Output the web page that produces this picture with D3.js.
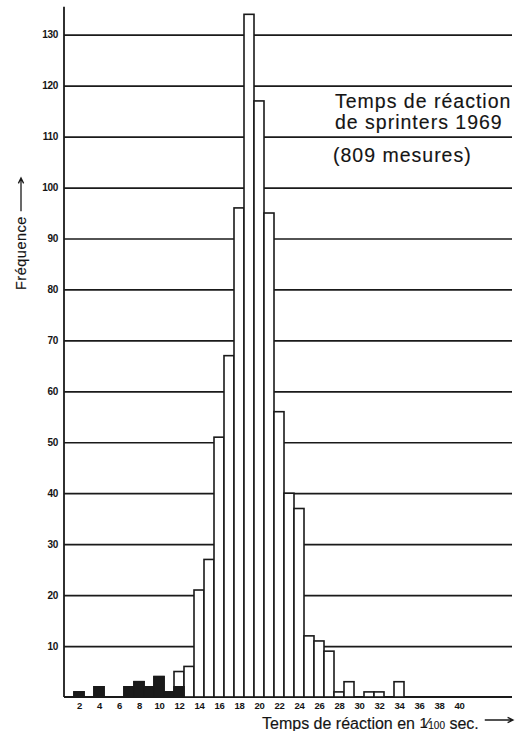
<!DOCTYPE html>
<html>
<head>
<meta charset="utf-8">
<script src="https://cdn.jsdelivr.net/npm/d3@7"></script>
<style>
  html, body { margin: 0; padding: 0; background: #fff; }
  svg { display: block; }
  text { font-family: "Liberation Sans", Arial, Helvetica, sans-serif; fill: #141414; }
</style>
</head>
<body>
<svg id="chart" width="530" height="731"></svg>
<script>
// ---- data ----
const reactionTimes = [2, 4, 7, 8, 9, 10, 11, 12, 13, 14, 15, 16, 17, 18, 19, 20, 21, 22, 23, 24, 25, 26, 27, 28, 29, 31, 32, 34];
const darkCounts    = [1, 2, 2, 3, 2, 4, 1, 2, 0, 0, 0, 0, 0, 0, 0, 0, 0, 0, 0, 0, 0, 0, 0, 0, 0, 0, 0, 0];
const lightCounts   = [0, 0, 0, 0, 0, 0, 0, 3, 6, 21, 27, 51, 67, 96, 134, 117, 95, 56, 40, 37, 12, 11, 9, 1, 3, 1, 1, 3];
const yTickValues   = [10, 20, 30, 40, 50, 60, 70, 80, 90, 100, 110, 120, 130];
const xTickValues   = [2, 4, 6, 8, 10, 12, 14, 16, 18, 20, 22, 24, 26, 28, 30, 32, 34, 36, 38, 40];
const titleLines    = ["Temps de réaction", "de sprinters 1969"];
const subtitle      = "(809 mesures)";
const yTitle        = "Fréquence";
const xTitleParts   = ["Temps de réaction en ", "1", "⁄", "100", " sec."];

// ---- layout ----
const svg = d3.select("#chart");
const ink = "#1a1a1a";
const x = d3.scaleLinear().domain([0.5, 45.3]).range([64, 512]);
const y = d3.scaleLinear().domain([0, 130]).range([697, 34.7]);

const bins = reactionTimes.map((t, i) => ({ t, dark: darkCounts[i], light: lightCounts[i] }));

// gridlines + y tick labels
const yAxis = d3.axisLeft(y)
  .tickValues(yTickValues)
  .tickSize(-(x.range()[1] - x.range()[0]))
  .tickPadding(6)
  .tickFormat(d3.format("d"));
const gy = svg.append("g").attr("transform", `translate(${x.range()[0]},0)`).call(yAxis);
gy.select(".domain").remove();
gy.selectAll(".tick line").attr("stroke", ink).attr("stroke-width", 1.7);
gy.selectAll(".tick text")
  .attr("font-size", 10).attr("font-weight", "bold")
  .attr("font-family", '"Liberation Sans", Arial, sans-serif')
  .attr("letter-spacing", "-0.3px")
  .attr("fill", "#141414");

// baseline and vertical axis
svg.append("line")
  .attr("x1", x.range()[0]).attr("x2", x.range()[1])
  .attr("y1", y(0)).attr("y2", y(0))
  .attr("stroke", ink).attr("stroke-width", 1.8);
svg.append("line")
  .attr("x1", x.range()[0]).attr("x2", x.range()[0])
  .attr("y1", y(0)).attr("y2", y(135.5))
  .attr("stroke", ink).attr("stroke-width", 1.8);

// bars: outline (total), then dark part
const barG = svg.append("g");
barG.selectAll("rect.total")
  .data(bins.filter(d => d.dark + d.light > 0))
  .join("rect")
  .attr("class", "total")
  .attr("x", d => x(d.t - 0.5))
  .attr("width", d => x(d.t + 0.5) - x(d.t - 0.5))
  .attr("y", d => y(d.dark + d.light))
  .attr("height", d => y(0) - y(d.dark + d.light))
  .attr("fill", "#fff").attr("stroke", ink).attr("stroke-width", 1.6);
barG.selectAll("rect.dark")
  .data(bins.filter(d => d.dark > 0))
  .join("rect")
  .attr("class", "dark")
  .attr("x", d => x(d.t - 0.5))
  .attr("width", d => x(d.t + 0.5) - x(d.t - 0.5))
  .attr("y", d => y(d.dark))
  .attr("height", d => y(0) - y(d.dark))
  .attr("fill", ink).attr("stroke", ink).attr("stroke-width", 1.6);

// x tick labels
const xAxis = d3.axisBottom(x).tickValues(xTickValues).tickSize(0).tickPadding(5).tickFormat(d3.format("d"));
const gx = svg.append("g").attr("transform", `translate(0,${y(0)})`).call(xAxis);
gx.select(".domain").remove();
gx.selectAll(".tick text")
  .attr("font-size", 9.5).attr("font-weight", "bold")
  .attr("font-family", '"Liberation Sans", Arial, sans-serif')
  .attr("letter-spacing", "-0.4px")
  .attr("fill", "#141414");

// title block
const tg = svg.append("g").attr("font-size", 19.5).attr("letter-spacing", "1px")
  .attr("stroke", "#141414").attr("stroke-width", 0.15);
tg.append("text").attr("x", 335).attr("y", 108).text(titleLines[0]);
tg.append("text").attr("x", 335).attr("y", 129).text(titleLines[1]);
tg.append("text").attr("x", 333).attr("y", 162).text(subtitle);

// arrow helper
function arrow(g, x1, y1, x2, y2) {
  const ang = Math.atan2(y2 - y1, x2 - x1);
  const L = 6, w = 0.45;
  const p = d3.path();
  p.moveTo(x1, y1); p.lineTo(x2, y2);
  p.moveTo(x2 - L * Math.cos(ang - w), y2 - L * Math.sin(ang - w));
  p.lineTo(x2, y2);
  p.lineTo(x2 - L * Math.cos(ang + w), y2 - L * Math.sin(ang + w));
  g.append("path").attr("d", p.toString()).attr("fill", "none")
    .attr("stroke", ink).attr("stroke-width", 1.3);
}

// y title (rotated)
const yt = svg.append("text")
  .attr("transform", "translate(26,290) rotate(-90)")
  .attr("font-size", 14.5).attr("letter-spacing", "0.5px")
  .attr("stroke", "#141414").attr("stroke-width", 0.15)
  .text(yTitle);
const ytLen = yt.node().getComputedTextLength();
arrow(svg, 21, 290 - ytLen - 5, 21, 178);

// x title
const xt = svg.append("text").attr("x", 262).attr("y", 729).attr("font-size", 16)
  .attr("stroke", "#141414").attr("stroke-width", 0.15);
xt.append("tspan").text(xTitleParts[0]);
xt.append("tspan").attr("font-size", 15).attr("dy", -1).text(xTitleParts[1]);
xt.append("tspan").attr("font-size", 15).attr("dy", 0).attr("dx", -1).text(xTitleParts[2]);
xt.append("tspan").attr("font-size", 10).attr("dy", 1).attr("dx", -1).text(xTitleParts[3]);
xt.append("tspan").attr("font-size", 16).text(xTitleParts[4]);
const xtEnd = 262 + xt.node().getComputedTextLength();
arrow(svg, xtEnd + 4, 720, 513, 720);
</script>
</body>
</html>
